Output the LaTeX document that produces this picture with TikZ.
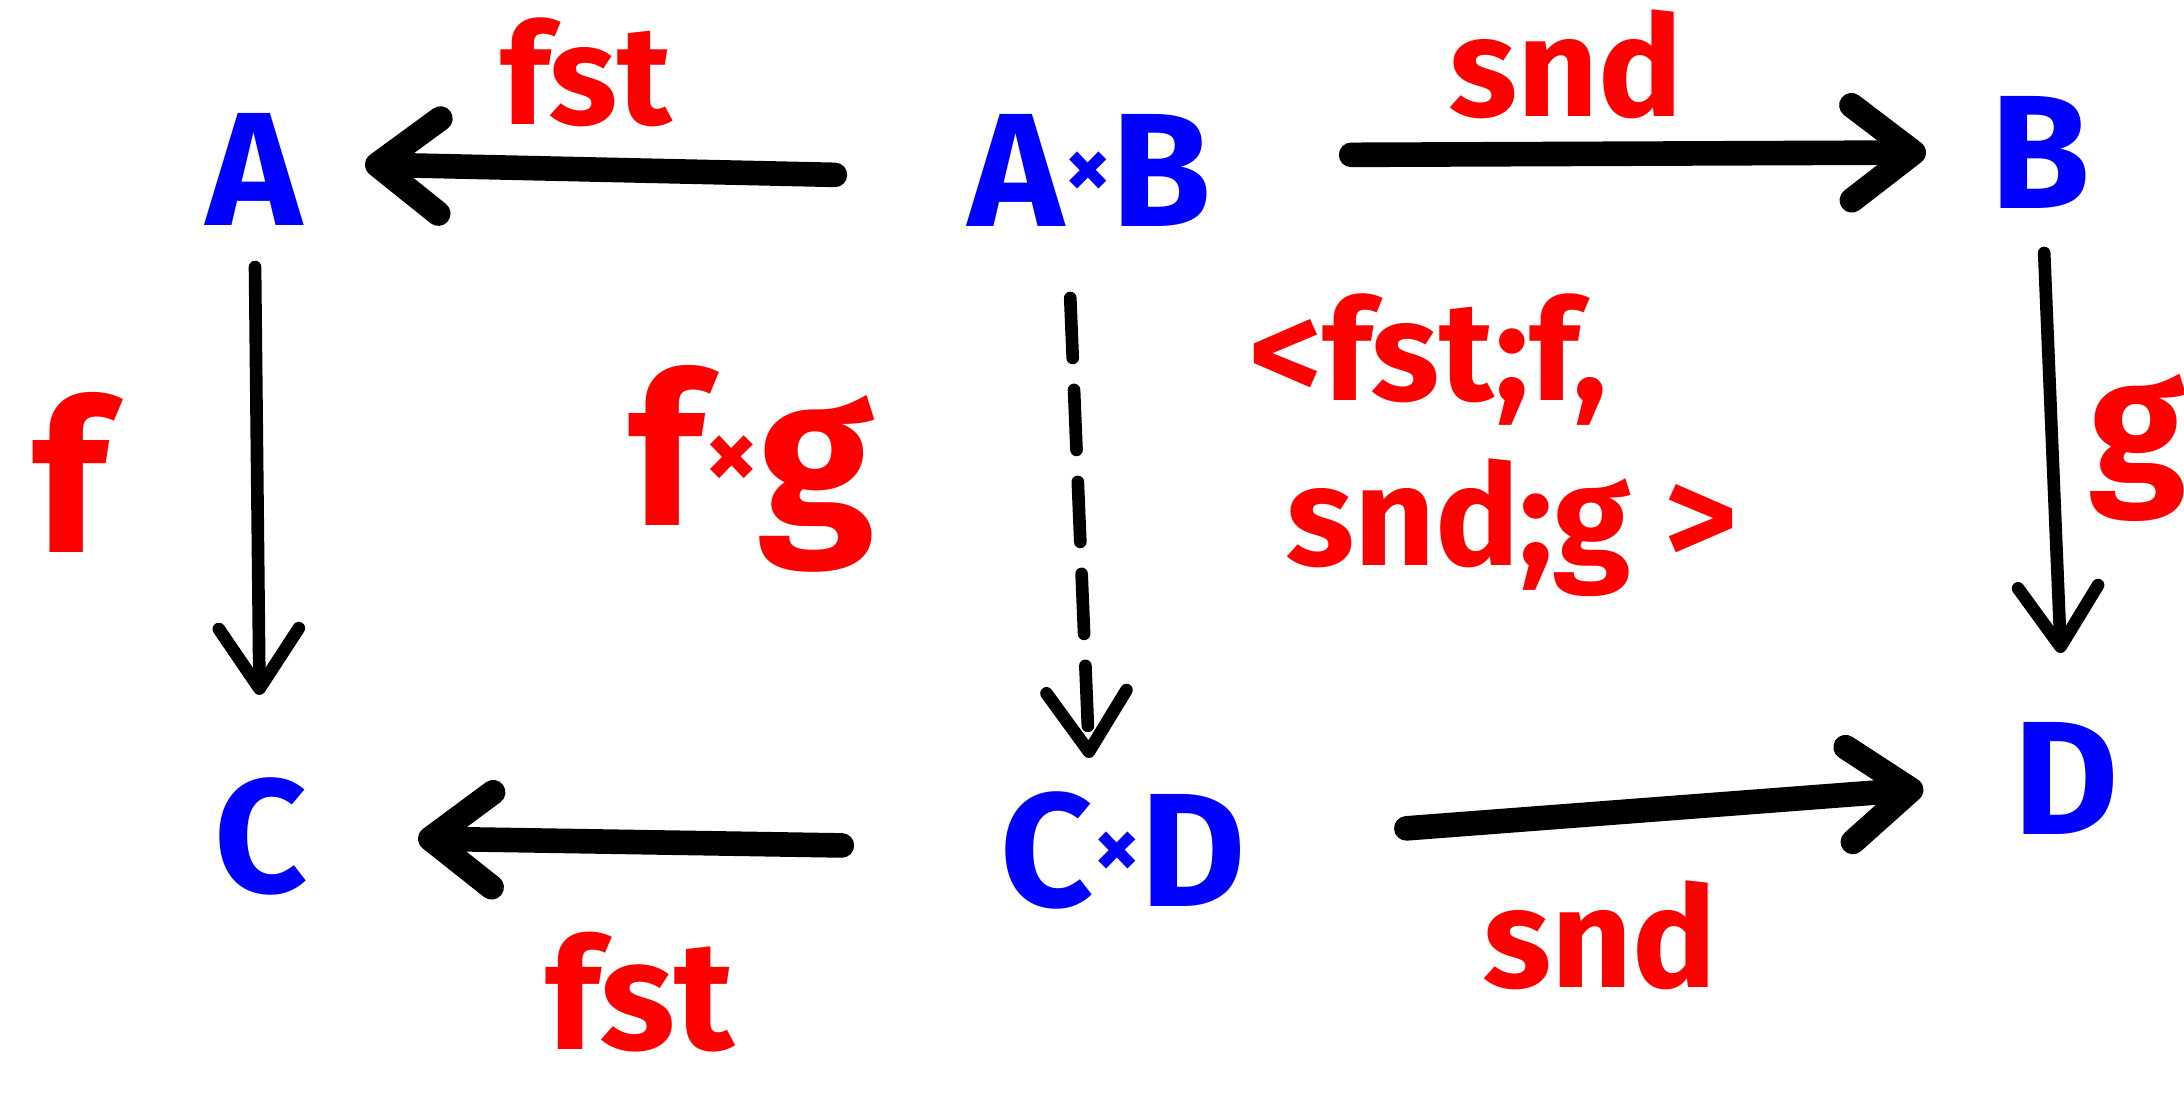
\documentclass[tikz,border=0pt]{standalone}
\usepackage{fontspec}
\setmainfont{Fira Sans}
\usetikzlibrary{arrows.meta}
\definecolor{inkblue}{RGB}{0,0,255}
\definecolor{inkred}{RGB}{255,0,0}
\newcommand{\smalltimes}[1]{\raisebox{0.32ex}{\fontsize{#1}{#1}\selectfont ×}}
\begin{document}
\begin{tikzpicture}[x=0.01cm,y=-0.01cm,
  obj/.style={text=inkblue,font=\fontsize{46}{50}\selectfont\bfseries,inner sep=0pt},
  lbl/.style={text=inkred,font=\fontsize{40}{44}\selectfont\bfseries,inner sep=0pt,align=center},
  biglbl/.style={lbl,font=\fontsize{60}{64}\selectfont\bfseries},
  thick arrow/.style={line width=7pt,line cap=round,-{Straight Barb[length=0.62cm,width=0.95cm,round]}},
  thin arrow/.style={line width=3.6pt,line cap=round,-{Straight Barb[length=0.6cm,width=0.8cm,round]}},
  dash arrow/.style={thin arrow,dash pattern=on 0.6cm off 0.32cm}]
\fill[white] (0,0) rectangle (2184,1094);
\useasboundingbox (0,0) rectangle (2184,1094);
% objects
\node[obj] (A)  at (254,169)  {A};
\node[obj] (AB) at (1090,170) {A\smalltimes{26}B};
\node[obj] (B)  at (2040,152) {B};
\node[obj] (C)  at (261,836)  {C};
\node[obj] (CD) at (1123,850) {C\smalltimes{26}D};
\node[obj] (D)  at (2066,778) {D};
% labels
\node[lbl] (l1) at (586,72)   {fst};
\node[lbl] (l2) at (1566,64)  {snd};
\node[biglbl] (l3) at (70,472) {f};
\node[biglbl] (l4) at (752,469) {f\smalltimes{30}g};
\node[lbl] (l5) at (1428,360) {<fst;f,};
\node[lbl] (l6) at (1512,528) {snd;g >};
\node[lbl,font=\fontsize{50}{54}\selectfont\bfseries] (l7) at (2138,448) {g};
\node[lbl,font=\fontsize{44}{48}\selectfont\bfseries] (l8) at (640,992) {fst};
\node[lbl] (l9) at (1600,935) {snd};
% arrows
\draw[thick arrow,shorten <=2.55cm,shorten >=1.11cm] ([yshift=-3pt]AB.center) -- ([yshift=2pt]A.center);
\draw[thick arrow,shorten <=2.61cm,shorten >=1.14cm] ([yshift=4pt]AB.center) -- (B.center);
\draw[thin arrow,shorten <=0.98cm,shorten >=1.41cm] (A.center) -- (C.center);
\draw[thin arrow,shorten <=1.01cm,shorten >=1.25cm] (B.center) -- (D.center);
\draw[dash arrow,shorten <=1.28cm,shorten >=0.92cm] ([xshift=-0.25cm]AB.center) -- ([xshift=-0.3cm]CD.center);
\draw[thick arrow,shorten <=2.81cm,shorten >=1.57cm] (CD.center) -- (C.center);
\draw[thick arrow,shorten <=2.84cm,shorten >=1.43cm] (CD.center) -- (D.center);
\end{tikzpicture}
\end{document}
